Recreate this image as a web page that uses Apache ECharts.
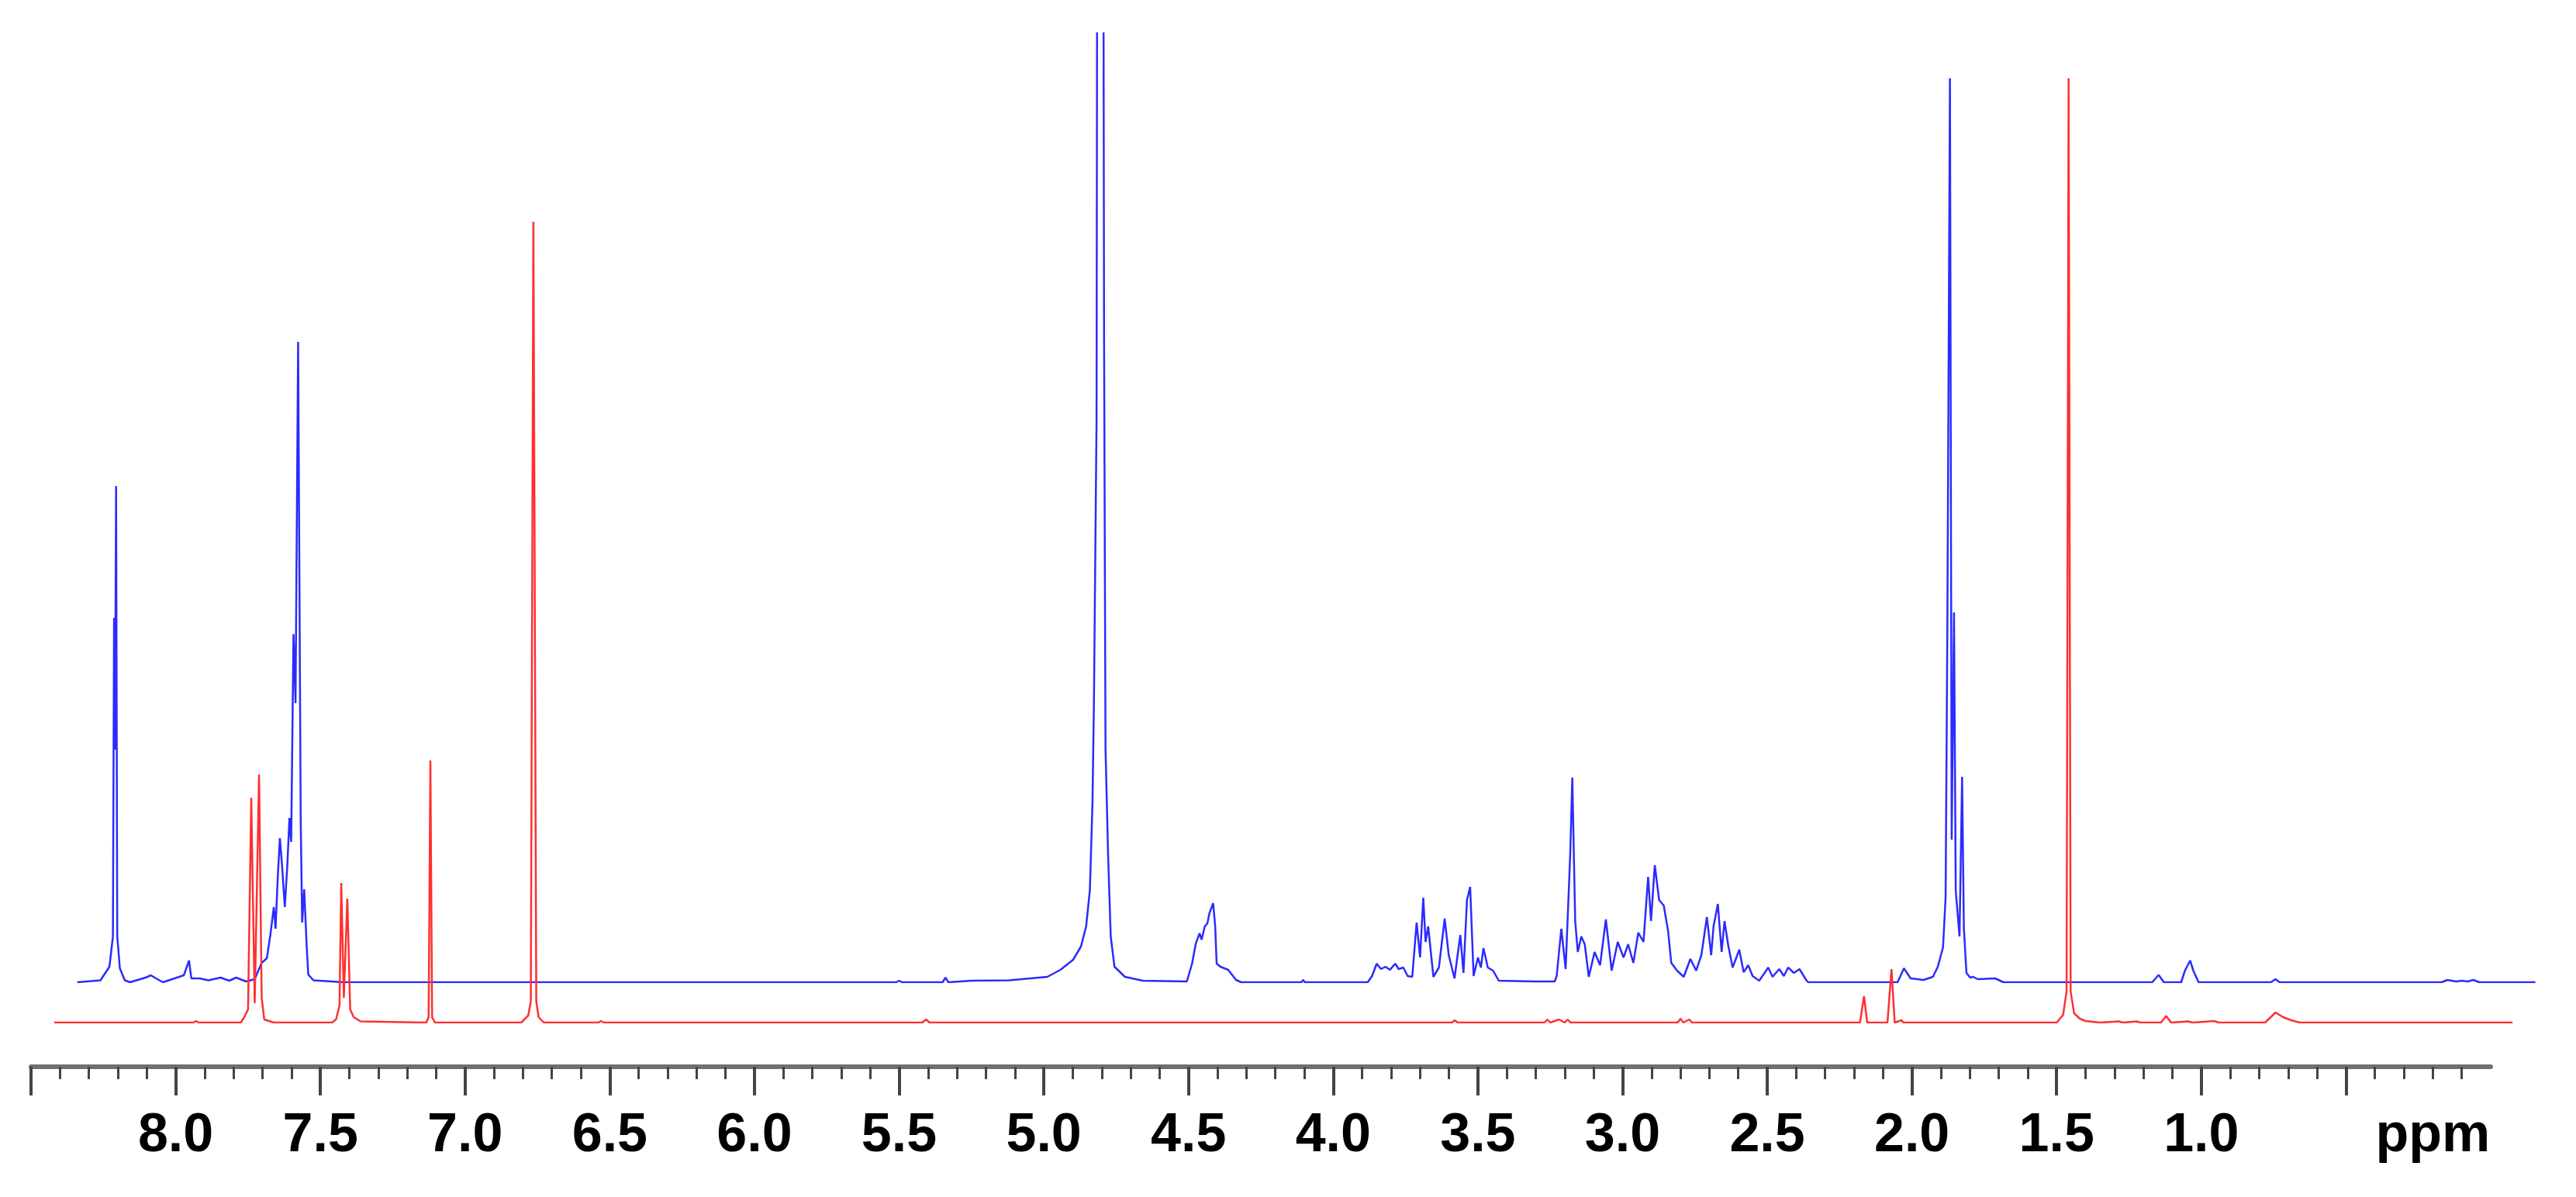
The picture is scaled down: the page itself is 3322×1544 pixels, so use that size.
<!DOCTYPE html>
<html><head><meta charset="utf-8">
<script src="https://cdn.jsdelivr.net/npm/echarts@6/dist/echarts.min.js"></script>
<style>html,body{margin:0;padding:0;background:#fff}#chart{width:3322px;height:1544px}</style>
</head><body><div id="chart"></div>
<script>
// ---- axis ticks / labels (ppm) ----
const majorTicks = [8.5,8.0,7.5,7.0,6.5,6.0,5.5,5.0,4.5,4.0,3.5,3.0,2.5,2.0,1.5,1.0,0.5];
const tickLabels = [8.0,7.5,7.0,6.5,6.0,5.5,5.0,4.5,4.0,3.5,3.0,2.5,2.0,1.5,1.0];
const unitLabel = 'ppm';
const unitLabelPos = 0.2;

// ---- blue spectrum: [ppm, intensity (a.u.)] ----
const blueAromatic = [
  [8.34,0],[8.26,2.5],[8.229,20],[8.217,59],[8.213,470],[8.210,300],[8.206,640],[8.202,59],[8.193,18],[8.176,2.5],[8.158,0],
  [8.104,6],[8.086,9],[8.068,5],[8.044,0],[7.996,6],[7.972,9],[7.954,28],[7.946,5],[7.918,5],[7.887,2.5],[7.845,6],[7.815,2],
  [7.791,6],[7.757,1],[7.727,4],[7.703,25],[7.685,31],[7.673,61],[7.661,97],[7.655,69],[7.647,138],[7.640,186],[7.633,153],
  [7.623,97],[7.614,153],[7.607,212],[7.601,181],[7.593,449],[7.586,360],[7.577,826],[7.568,207],[7.563,77],[7.556,120],
  [7.548,51],[7.542,10],[7.524,2.5],[7.42,0],[6.6,0]
];
const blueMid = [
  [6.6,0],[5.51,0],[5.50,2],[5.49,0],[5.35,0],[5.34,6],[5.33,0],[5.25,2],[5.12,2.5],[4.988,7],[4.943,16],[4.899,29],[4.872,46],
  [4.854,72],[4.841,119],[4.832,232],[4.827,362],[4.818,725],[4.816,1300],[4.806,1500],[4.794,1300],[4.792,829],[4.787,301],
  [4.778,163],[4.769,59],[4.756,20],[4.720,7],[4.658,2],[4.506,1],[4.488,24],[4.475,50],[4.462,63],[4.455,55],[4.444,72],
  [4.435,76],[4.428,89],[4.415,102],[4.408,72],[4.403,24],[4.390,20],[4.363,16],[4.336,3],[4.318,0],[4.11,0],[4.104,3],[4.098,0],[3.881,0]
];
const blueAliphatic = [
  [3.881,0],[3.866,8],[3.850,24],[3.835,17],[3.820,20],[3.804,16],[3.786,24],[3.774,17],[3.758,19],[3.743,8],[3.727,7],[3.712,77],
  [3.700,32],[3.689,109],[3.681,52],[3.672,72],[3.654,7],[3.635,19],[3.615,82],[3.601,35],[3.581,5],[3.561,61],[3.550,12],
  [3.538,106],[3.527,123],[3.515,8],[3.500,32],[3.490,19],[3.481,44],[3.466,19],[3.448,15],[3.428,2],[3.30,1],[3.235,1],
  [3.228,8],[3.212,69],[3.197,17],[3.181,167],[3.174,264],[3.164,79],[3.155,39],[3.143,59],[3.131,49],[3.117,7],[3.097,39],
  [3.078,22],[3.058,81],[3.038,15],[3.017,52],[2.997,32],[2.981,49],[2.963,25],[2.946,64],[2.928,52],[2.912,136],[2.902,79],
  [2.889,151],[2.874,106],[2.858,99],[2.843,66],[2.832,25],[2.812,15],[2.789,7],[2.766,30],[2.746,15],[2.728,35],[2.709,84],
  [2.694,35],[2.686,72],[2.671,101],[2.658,39],[2.648,79],[2.635,47],[2.620,19],[2.597,42],[2.582,13],[2.566,22],[2.551,8],
  [2.528,2],[2.497,19],[2.482,7],[2.459,17],[2.443,8],[2.428,19],[2.408,12],[2.389,17],[2.366,3],[2.359,0]
];
const blueUpfield = [
  [2.359,0],[2.251,0],[2.248,2],[2.245,0],[2.05,0],[2.028,18],[2.005,5],[1.96,3],[1.928,7],[1.911,20],[1.893,45],[1.884,110],
  [1.878,457],[1.869,1166],[1.863,184],[1.855,477],[1.849,118],[1.836,59],[1.827,265],[1.821,70],[1.812,12],[1.799,6],
  [1.789,7],[1.773,4],[1.713,5],[1.684,0],[1.17,0],[1.148,9.5],[1.13,0],[1.07,0],[1.057,15],[1.039,28],[1.028,15],[1.010,0],
  [0.76,0],[0.744,4],[0.73,0],[0.17,0],[0.15,3],[0.12,1],[0.10,2],[0.08,1],[0.06,3],[0.04,0],[-0.154,0]
];

// ---- red spectrum: [ppm, intensity (a.u.)] ----
const redAromatic = [
  [8.42,0],[7.94,0],[7.93,2],[7.92,0],[7.775,0],[7.763,7],[7.750,17],[7.739,290],[7.727,25],[7.712,320],[7.703,32],[7.694,4],
  [7.661,0],[7.46,0],[7.446,4],[7.434,22],[7.428,180],[7.419,32],[7.407,160],[7.397,17],[7.385,7],[7.361,1.5],[7.134,0],
  [7.126,7],[7.120,338],[7.114,7],[7.104,0],[6.806,0],[6.782,9],[6.773,27],[6.764,1033],[6.754,27],[6.746,7],[6.728,0]
];
const redMid = [
  [6.728,0],[6.54,0],[6.53,2],[6.52,0],[5.42,0],[5.407,4],[5.395,0],[3.59,0],[3.58,3],[3.57,0],[3.27,0],[3.26,4],[3.25,0],
  [3.22,4],[3.20,0],[3.19,4],[3.18,0],[2.81,0],[2.80,5],[2.79,0],[2.77,4],[2.76,0],[2.18,0],[2.166,34],[2.155,0],[2.085,0],
  [2.071,69],[2.060,0],[2.036,3],[2.03,0]
];
const redUpfield = [
  [2.03,0],[1.50,0],[1.478,10],[1.466,40],[1.459,1218],[1.452,40],[1.44,12],[1.42,5],[1.40,2],[1.35,0],[1.286,1.5],[1.27,0],
  [1.224,1.5],[1.21,0],[1.14,0],[1.122,8.5],[1.105,0],[1.046,1.5],[1.03,0],[0.956,2],[0.94,0],[0.78,0],[0.744,13],[0.718,7],
  [0.69,3],[0.66,0],[-0.075,0]
];

const blueData = blueAromatic.concat(blueMid, blueAliphatic, blueUpfield);
const redData = redAromatic.concat(redMid, redUpfield);

const chart = echarts.init(document.getElementById('chart'), null, {renderer: 'canvas'});
const specX = {type: 'value', min: -0.2, max: 8.5, inverse: true, show: false};
chart.setOption({
  animation: false,
  backgroundColor: '#ffffff',
  grid: [
    {left: 40, right: 110, top: 43, bottom: 168, outerBoundsMode: 'none'},
    {left: 40, right: 35.2, top: 43, bottom: 277, outerBoundsMode: 'none'},
    {left: 40, right: 35.2, top: 43, bottom: 225, outerBoundsMode: 'none'}
  ],
  xAxis: [
    {
      gridIndex: 0, type: 'value', min: 0, max: 8.5, interval: 0.5, inverse: true, position: 'bottom',
      axisLine: {show: true, lineStyle: {color: '#707070', width: 6}},
      axisTick: {show: true, customValues: majorTicks, length: 37, inside: false, lineStyle: {color: '#444', width: 4}},
      minorTick: {show: true, splitNumber: 5, length: 16, lineStyle: {color: '#444', width: 3}},
      axisLabel: {
        show: true, customValues: tickLabels.concat([unitLabelPos]), margin: 55,
        fontFamily: '"Liberation Sans", Arial, sans-serif',
        fontWeight: 'bold', fontSize: 70, color: '#000',
        formatter: function (v) { return Math.abs(v - unitLabelPos) < 1e-6 ? unitLabel : v.toFixed(1); }
      },
      splitLine: {show: false}
    },
    Object.assign({gridIndex: 1}, specX),
    Object.assign({gridIndex: 2}, specX)
  ],
  yAxis: [
    {gridIndex: 0, type: 'value', min: 0, max: 1, show: false},
    {gridIndex: 1, type: 'value', min: 0, max: 1224, show: false},
    {gridIndex: 2, type: 'value', min: 0, max: 1276, show: false}
  ],
  series: [
    {
      name: 'blue', type: 'line', xAxisIndex: 1, yAxisIndex: 1, data: blueData,
      showSymbol: false, symbol: 'none', clip: true, silent: true, z: 2,
      lineStyle: {color: '#2b2bff', width: 2.5}
    },
    {
      name: 'red', type: 'line', xAxisIndex: 2, yAxisIndex: 2, data: redData,
      showSymbol: false, symbol: 'none', clip: true, silent: true, z: 3,
      lineStyle: {color: '#ff3030', width: 2.5}
    }
  ]
});
</script>
</body></html>
